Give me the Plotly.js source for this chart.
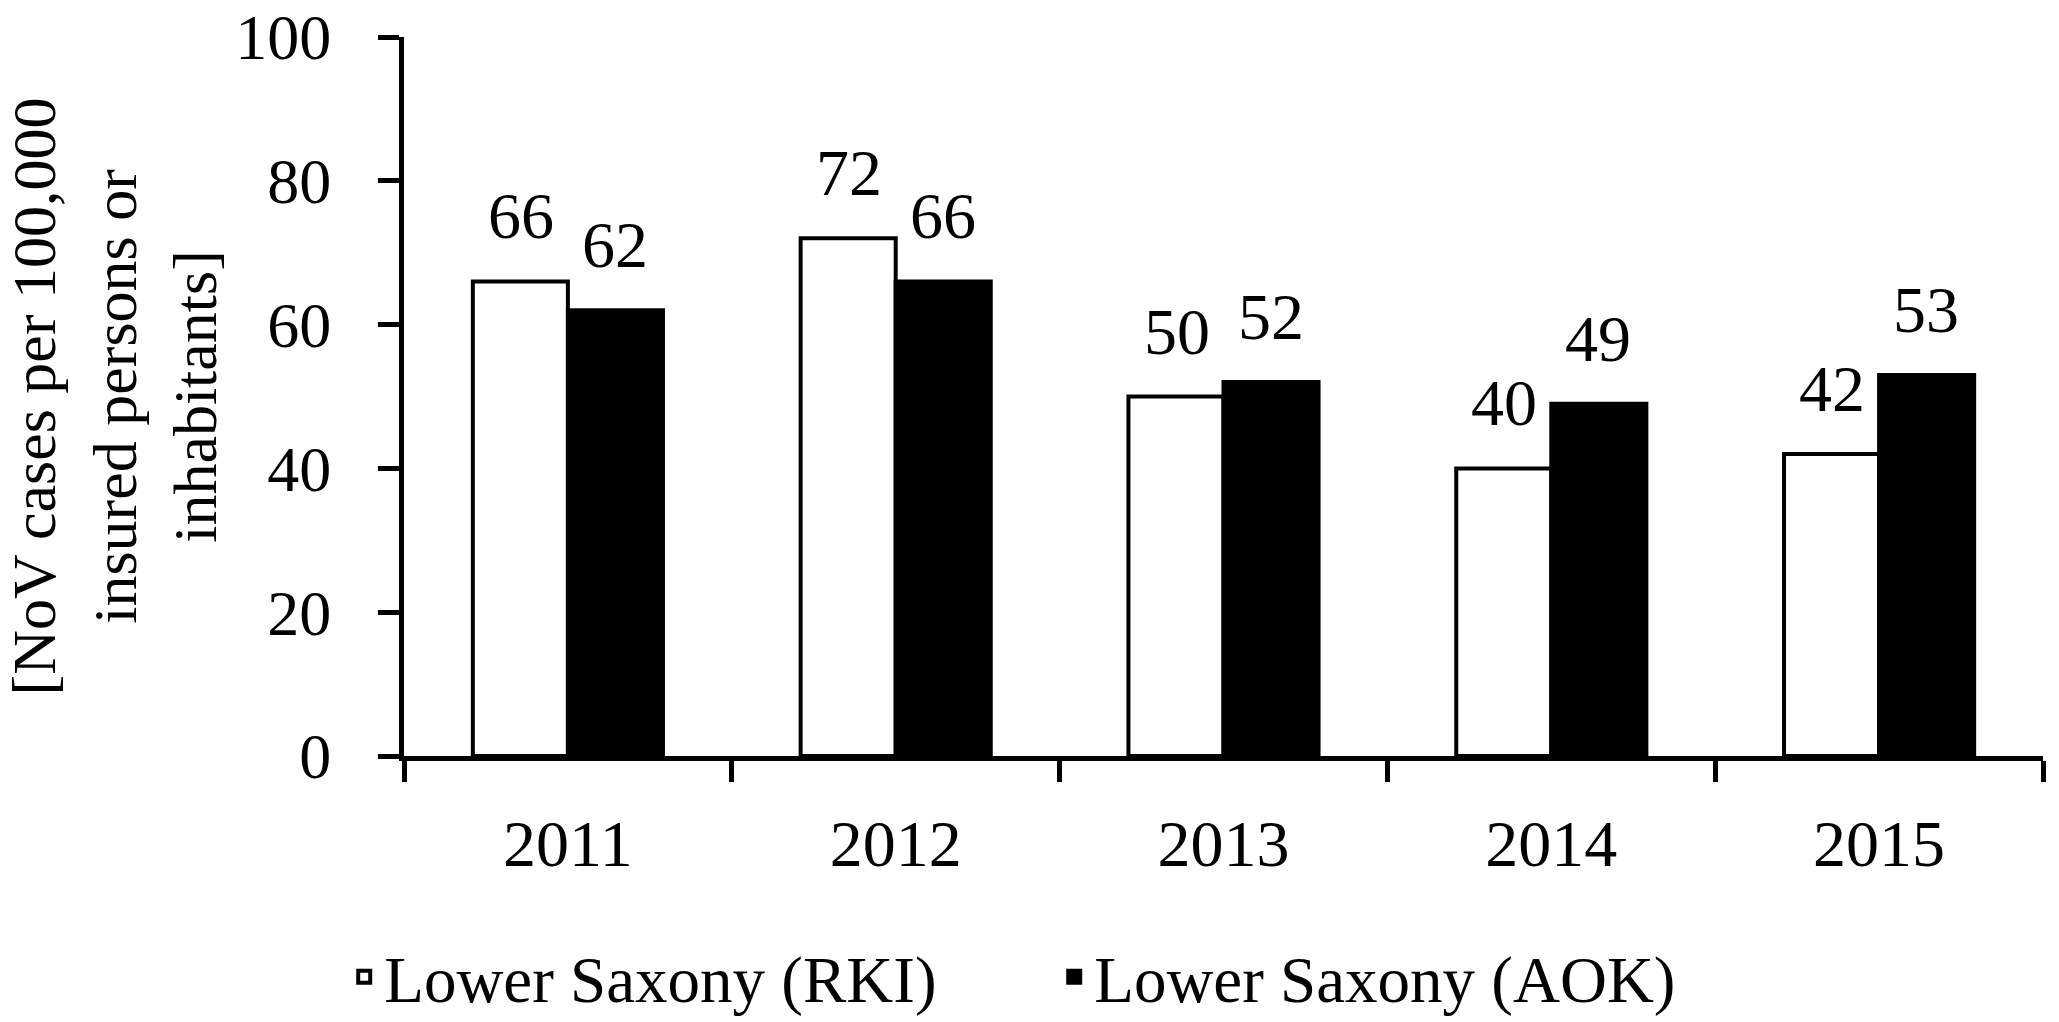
<!DOCTYPE html>
<html>
<head>
<meta charset="utf-8">
<script src="https://cdn.plot.ly/plotly-3.0.1.min.js"></script>
<style>
  html, body { margin: 0; padding: 0; background: #ffffff; }
  #chart { width: 2059px; height: 1022px; }
</style>
</head>
<body>
<div id="chart"></div>
<script>
// ---- data ----
var years = ['2011', '2012', '2013', '2014', '2015'];
var rkiName = 'Lower Saxony (RKI)';
var aokName = 'Lower Saxony (AOK)';
var rkiValues = [66, 72, 50, 40, 42];
var aokValues = [62, 66, 52, 49, 53];
var yTickVals = [0, 20, 40, 60, 80, 100];
var yTitleText = '[NoV cases per 100,000<br>insured persons or<br>inhabitants]';

// ---- style ----
var FONT = '"Liberation Serif", "DejaVu Serif", serif';
var BLACK = '#000000';
var BAR_SHIFT = 47;   // px offset of each grouped bar's centre from the category centre

var traces = [
  {
    type: 'bar', name: rkiName, x: years, y: rkiValues,
    marker: { color: '#ffffff', line: { color: BLACK, width: 4 } },
    hoverinfo: 'skip'
  },
  {
    type: 'bar', name: aokName, x: years, y: aokValues,
    marker: { color: BLACK, line: { color: BLACK, width: 4 } },
    hoverinfo: 'skip'
  }
];

var annotations = [];
function addLabels(vals, shift) {
  for (var i = 0; i < years.length; i++) {
    annotations.push({
      xref: 'x', yref: 'y', x: i, y: vals[i],
      text: String(vals[i]), showarrow: false,
      xanchor: 'center', yanchor: 'bottom',
      xshift: shift, yshift: 27,
      font: { family: FONT, size: 66, color: BLACK }
    });
  }
}
addLabels(rkiValues, -BAR_SHIFT);
addLabels(aokValues, BAR_SHIFT);

var layout = {
  width: 2059, height: 1022,
  margin: { l: 404, r: 16, t: 37, b: 266 },
  paper_bgcolor: '#ffffff', plot_bgcolor: '#ffffff',
  font: { family: FONT, size: 66, color: BLACK },
  barmode: 'group', bargap: 0.42, bargroupgap: 0,
  showlegend: true,
  legend: {
    orientation: 'h', xref: 'container', yref: 'container',
    x: 0.512, xanchor: 'center', y: 0.044, yanchor: 'middle',
    font: { family: FONT, size: 65, color: BLACK },
    entrywidth: 665, traceorder: 'normal',
    bgcolor: 'rgba(0,0,0,0)'
  },
  xaxis: {
    type: 'category', range: [-0.5, 4.5], autorange: false,
    showline: true, linecolor: BLACK, linewidth: 5,
    ticks: 'outside', tickson: 'boundaries', ticklen: 21, tickwidth: 5, tickcolor: BLACK,
    showgrid: false, zeroline: false, tickangle: 0,
    ticklabelstandoff: 26,
    tickfont: { family: FONT, size: 66, color: BLACK },
    automargin: false
  },
  yaxis: {
    range: [0, 100], autorange: false, tickvals: yTickVals, ticktext: yTickVals.map(String),
    showline: true, linecolor: BLACK, linewidth: 5,
    ticks: 'outside', ticklen: 21, tickwidth: 5, tickcolor: BLACK,
    showgrid: false, zeroline: false,
    ticklabelstandoff: 34, ticklabeloverflow: 'allow',
    tickfont: { family: FONT, size: 64, color: BLACK },
    title: { text: yTitleText, font: { family: FONT, size: 62, color: BLACK }, standoff: 34 },
    automargin: false
  },
  annotations: annotations
};

Plotly.newPlot('chart', traces, layout, { displayModeBar: false, staticPlot: true });
</script>
</body>
</html>
